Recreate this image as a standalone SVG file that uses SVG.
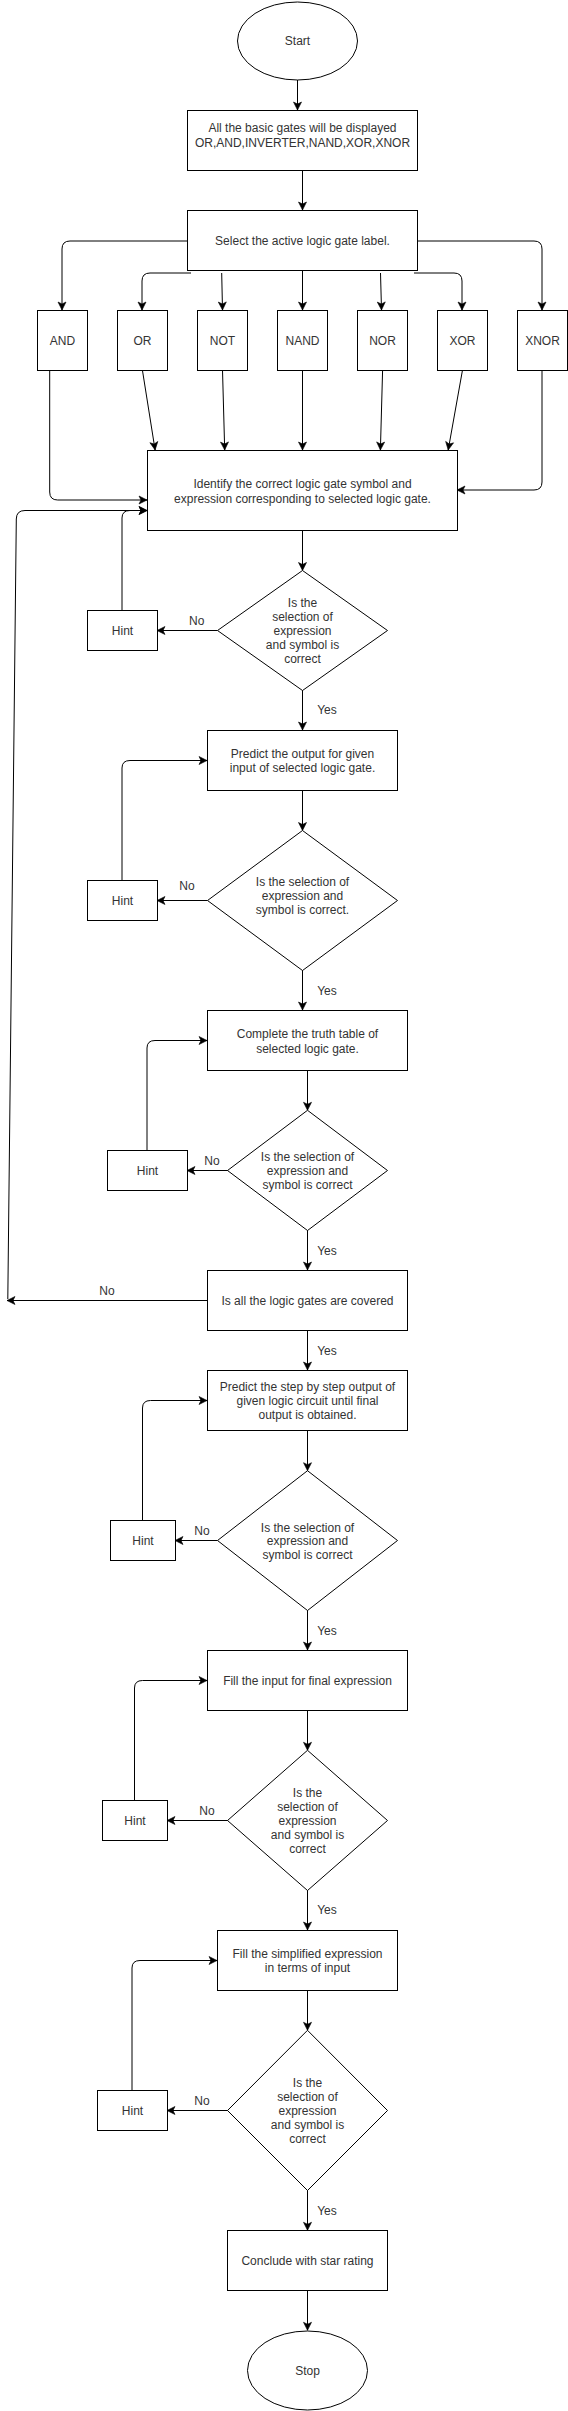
<svg xmlns="http://www.w3.org/2000/svg" width="568" height="2411" viewBox="0 0 568 2411">
<style>
.s{fill:#fff;stroke:#000;stroke-width:1}
.t{font-family:"Liberation Sans",Arial,Helvetica,sans-serif;font-size:12px;fill:#333;text-anchor:middle;dominant-baseline:central}
.c{fill:none;stroke:#000;stroke-width:1}
.a{marker-end:url(#arr)}
</style>
<defs>
<marker id="arr" markerUnits="userSpaceOnUse" markerWidth="10" markerHeight="10" viewBox="0 0 10 10" refX="9" refY="5" orient="auto">
<path d="M1,1 L9,5 L1,9 L3,5 Z" fill="#000" stroke="#000" stroke-width="0.6"/>
</marker>
</defs>
<rect width="568" height="2411" fill="#fff"/>
<g id="connectors">
<path class="c a" d="M297.5,80 L297.5,110"/>
<path class="c a" d="M302.5,170 L302.5,210"/>
<path class="c a" d="M187,241 L70,241 Q62,241 62,249 L62,310"/>
<path class="c a" d="M191,273 L150,273 Q142,273 142,281 L142,310"/>
<path class="c a" d="M221.7,273 L222.5,310"/>
<path class="c a" d="M302.5,270 L302.5,310"/>
<path class="c a" d="M380.5,273 L381.5,310"/>
<path class="c a" d="M414,273 L454,273 Q462,273 462,281 L462,310"/>
<path class="c a" d="M417,241 L534,241 Q542,241 542,249 L542,310"/>
<path class="c a" d="M49.7,370 L49.7,492 Q49.7,500 57.7,500 L147,500"/>
<path class="c a" d="M142.4,370 L155.1,450"/>
<path class="c a" d="M222.5,370 L224.7,450"/>
<path class="c a" d="M302.5,370 L302.5,450"/>
<path class="c a" d="M382.6,370 L380.4,450"/>
<path class="c a" d="M462.5,370 L448.2,450"/>
<path class="c a" d="M542,370 L542,482 Q542,490 534,490 L457,490"/>
<path class="c a" d="M7.8,1299 L16.3,519 Q16.4,510.5 25,510.5 L147,510.5"/>
<path class="c a" d="M122,610 L122,518 Q122,510.5 130,510.5 L147,510.5"/>
<path class="c a" d="M302.5,530 L302.5,570.5"/>
<path class="c a" d="M217.5,630.5 L157,630.5"/>
<path class="c a" d="M302.5,690 L302.5,730"/>
<path class="c a" d="M122,880 L122,768 Q122,760.5 130,760.5 L207,760.5"/>
<path class="c a" d="M302.5,790 L302.5,830.5"/>
<path class="c a" d="M207.5,900.5 L157,900.5"/>
<path class="c a" d="M302.5,970 L302.5,1010"/>
<path class="c a" d="M147,1150 L147,1048 Q147,1040.5 155,1040.5 L207,1040.5"/>
<path class="c a" d="M307.5,1070 L307.5,1110.3"/>
<path class="c a" d="M228,1170.5 L187,1170.5"/>
<path class="c a" d="M307.5,1230 L307.5,1270"/>
<path class="c a" d="M207,1300.5 L7,1300.5"/>
<path class="c a" d="M307.5,1330 L307.5,1370"/>
<path class="c a" d="M142.5,1520 L142.5,1408 Q142.5,1400.5 150.5,1400.5 L207,1400.5"/>
<path class="c a" d="M307.5,1430 L307.5,1470.7"/>
<path class="c a" d="M217.5,1540.5 L175,1540.5"/>
<path class="c a" d="M307.5,1610 L307.5,1650"/>
<path class="c a" d="M134.5,1800 L134.5,1688 Q134.5,1680.5 142.5,1680.5 L207,1680.5"/>
<path class="c a" d="M307.5,1710 L307.5,1750.3"/>
<path class="c a" d="M228,1820.5 L167,1820.5"/>
<path class="c a" d="M307.5,1890 L307.5,1930"/>
<path class="c a" d="M132,2090 L132,1968 Q132,1960.5 140,1960.5 L217,1960.5"/>
<path class="c a" d="M307.5,1990 L307.5,2030.3"/>
<path class="c a" d="M228,2110.5 L167,2110.5"/>
<path class="c a" d="M307.5,2190 L307.5,2230.3"/>
<path class="c a" d="M307.5,2290 L307.5,2330.3"/>
</g>
<g id="edge-labels">
<text class="t" x="196.7" y="621">No</text>
<text class="t" x="327" y="710">Yes</text>
<text class="t" x="187" y="886">No</text>
<text class="t" x="327" y="991">Yes</text>
<text class="t" x="212" y="1161">No</text>
<text class="t" x="327" y="1251">Yes</text>
<text class="t" x="107" y="1291">No</text>
<text class="t" x="327" y="1351">Yes</text>
<text class="t" x="202" y="1531">No</text>
<text class="t" x="327" y="1631">Yes</text>
<text class="t" x="207" y="1811">No</text>
<text class="t" x="327" y="1910">Yes</text>
<text class="t" x="202" y="2101">No</text>
<text class="t" x="327" y="2211">Yes</text>
</g>
<g id="start"><ellipse class="s" cx="297.5" cy="41" rx="60" ry="39"/><text class="t" x="297.5" y="41">Start</text></g>
<g id="display"><rect class="s" x="187.5" y="110.5" width="230" height="60"/><text class="t" x="302.5" y="128">All the basic gates will be displayed</text><text class="t" x="302.5" y="143">OR,AND,INVERTER,NAND,XOR,XNOR</text></g>
<g id="select"><rect class="s" x="187.5" y="210.5" width="230" height="60"/><text class="t" x="302.5" y="241">Select the active logic gate label.</text></g>
<g id="and"><rect class="s" x="37.5" y="310.5" width="50" height="60"/><text class="t" x="62.5" y="341">AND</text></g>
<g id="or"><rect class="s" x="117.5" y="310.5" width="50" height="60"/><text class="t" x="142.5" y="341">OR</text></g>
<g id="not"><rect class="s" x="197.5" y="310.5" width="50" height="60"/><text class="t" x="222.5" y="341">NOT</text></g>
<g id="nand"><rect class="s" x="277.5" y="310.5" width="50" height="60"/><text class="t" x="302.5" y="341">NAND</text></g>
<g id="nor"><rect class="s" x="357.5" y="310.5" width="50" height="60"/><text class="t" x="382.5" y="341">NOR</text></g>
<g id="xor"><rect class="s" x="437.5" y="310.5" width="50" height="60"/><text class="t" x="462.5" y="341">XOR</text></g>
<g id="xnor"><rect class="s" x="517.5" y="310.5" width="50" height="60"/><text class="t" x="542.5" y="341">XNOR</text></g>
<g id="identify"><rect class="s" x="147.5" y="450.5" width="310" height="80"/><text class="t" x="302.5" y="483.5">Identify the correct logic gate symbol and</text><text class="t" x="302.5" y="499">expression corresponding to selected logic gate.</text></g>
<g id="decision1"><polygon class="s" points="302.5,570.5 387.5,630.5 302.5,690.5 217.5,630.5"/><text class="t" x="302.5" y="603">Is the</text><text class="t" x="302.5" y="617">selection of</text><text class="t" x="302.5" y="630.5">expression</text><text class="t" x="302.5" y="644.5">and symbol is</text><text class="t" x="302.5" y="658.5">correct</text></g>
<g id="hint1"><rect class="s" x="87.5" y="610.5" width="70" height="40"/><text class="t" x="122.5" y="630.5">Hint</text></g>
<g id="predict"><rect class="s" x="207.5" y="730.5" width="190" height="60"/><text class="t" x="302.5" y="754">Predict the output for given</text><text class="t" x="302.5" y="768">input of selected logic gate.</text></g>
<g id="decision2"><polygon class="s" points="302.5,830.5 397.5,900.5 302.5,970.5 207.5,900.5"/><text class="t" x="302.5" y="882">Is the selection of</text><text class="t" x="302.5" y="896">expression and</text><text class="t" x="302.5" y="910">symbol is correct.</text></g>
<g id="hint2"><rect class="s" x="87.5" y="880.5" width="70" height="40"/><text class="t" x="122.5" y="900.5">Hint</text></g>
<g id="truth"><rect class="s" x="207.5" y="1010.5" width="200" height="60"/><text class="t" x="307.5" y="1034">Complete the truth table of</text><text class="t" x="307.5" y="1048.5">selected logic gate.</text></g>
<g id="decision3"><polygon class="s" points="307.5,1110.3 387.5,1170.5 307.5,1230.5 227.5,1170.5"/><text class="t" x="307.5" y="1157">Is the selection of</text><text class="t" x="307.5" y="1171">expression and</text><text class="t" x="307.5" y="1184.5">symbol is correct</text></g>
<g id="hint3"><rect class="s" x="107.5" y="1150.5" width="80" height="40"/><text class="t" x="147.5" y="1170.5">Hint</text></g>
<g id="covered"><rect class="s" x="207.5" y="1270.5" width="200" height="60"/><text class="t" x="307.5" y="1300.5">Is all the logic gates are covered</text></g>
<g id="stepwise"><rect class="s" x="207.5" y="1370.5" width="200" height="60"/><text class="t" x="307.5" y="1387">Predict the step by step output of</text><text class="t" x="307.5" y="1401">given logic circuit until final</text><text class="t" x="307.5" y="1415">output is obtained.</text></g>
<g id="decision4"><polygon class="s" points="307.5,1470.7 397.5,1540.5 307.5,1610.5 217.5,1540.5"/><text class="t" x="307.5" y="1527.5">Is the selection of</text><text class="t" x="307.5" y="1541">expression and</text><text class="t" x="307.5" y="1555">symbol is correct</text></g>
<g id="hint4"><rect class="s" x="110.5" y="1520.5" width="65" height="40"/><text class="t" x="143" y="1540.5">Hint</text></g>
<g id="fillinput"><rect class="s" x="207.5" y="1650.5" width="200" height="60"/><text class="t" x="307.5" y="1680.5">Fill the input for final expression</text></g>
<g id="decision5"><polygon class="s" points="307.5,1750.3 387.5,1820.5 307.5,1890.5 227.5,1820.5"/><text class="t" x="307.5" y="1793">Is the</text><text class="t" x="307.5" y="1807">selection of</text><text class="t" x="307.5" y="1821">expression</text><text class="t" x="307.5" y="1835">and symbol is</text><text class="t" x="307.5" y="1849">correct</text></g>
<g id="hint5"><rect class="s" x="102.5" y="1800.5" width="65" height="40"/><text class="t" x="135" y="1820.5">Hint</text></g>
<g id="simplified"><rect class="s" x="217.5" y="1930.5" width="180" height="60"/><text class="t" x="307.5" y="1954">Fill  the simplified expression</text><text class="t" x="307.5" y="1968">in terms of input</text></g>
<g id="decision6"><polygon class="s" points="307.5,2030.3 387.5,2110.5 307.5,2190.5 227.5,2110.5"/><text class="t" x="307.5" y="2083">Is the</text><text class="t" x="307.5" y="2097">selection of</text><text class="t" x="307.5" y="2111">expression</text><text class="t" x="307.5" y="2125">and symbol is</text><text class="t" x="307.5" y="2139">correct</text></g>
<g id="hint6"><rect class="s" x="97.5" y="2090.5" width="70" height="40"/><text class="t" x="132.5" y="2110.5">Hint</text></g>
<g id="conclude"><rect class="s" x="227.5" y="2230.5" width="160" height="60"/><text class="t" x="307.5" y="2261">Conclude with star rating</text></g>
<g id="stop"><ellipse class="s" cx="307.5" cy="2370.5" rx="60" ry="39.5"/><text class="t" x="307.5" y="2371">Stop</text></g>
</svg>
